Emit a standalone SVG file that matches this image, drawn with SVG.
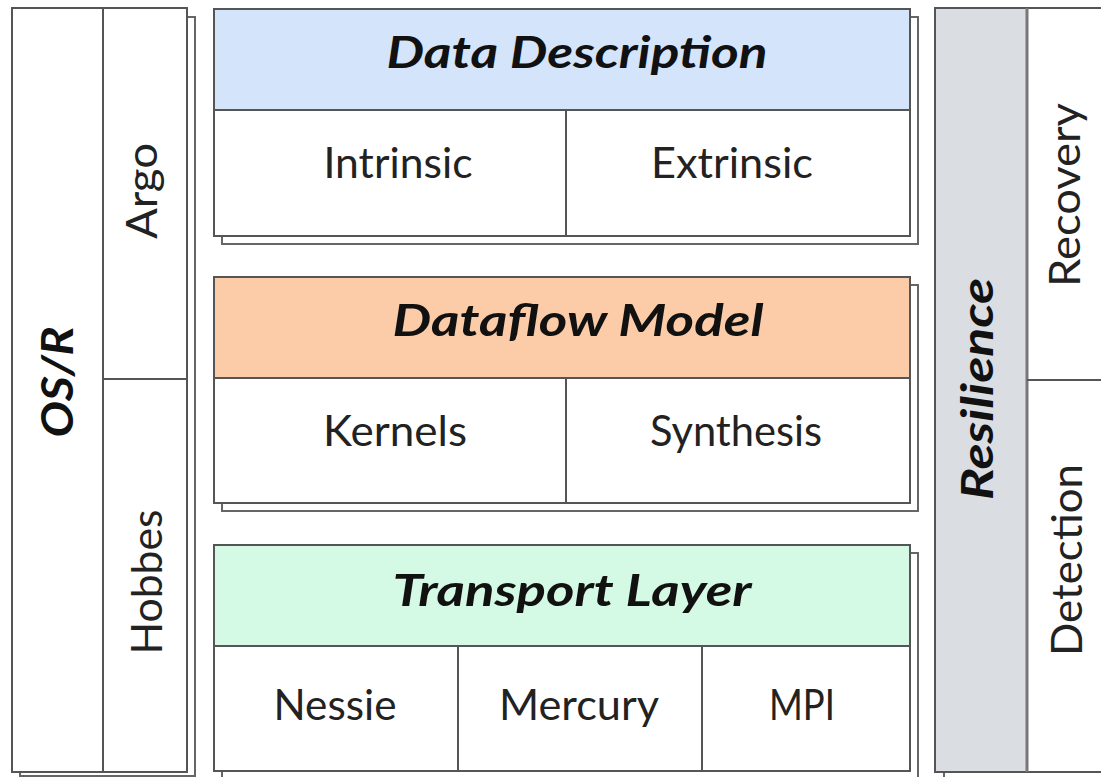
<svg xmlns="http://www.w3.org/2000/svg" width="1101" height="777" viewBox="0 0 1101 777">
<style>
.box{fill:#fff;stroke:#555;stroke-width:2}
.shadow{fill:#fff;stroke:#666;stroke-width:2}
.ln{stroke:#555;stroke-width:2;fill:none}
.hd{font-family:Lato,"Liberation Sans",sans-serif;font-weight:bold;font-style:italic;font-size:43px;fill:#111;text-anchor:middle}
.tx{font-family:Lato,"Liberation Sans",sans-serif;font-size:42px;fill:#222;text-anchor:middle}
</style>
<rect width="1101" height="777" fill="#fff"/>
<g id="osr">
  <rect class="shadow" x="20" y="17" width="175" height="759"/>
  <rect class="box" x="12" y="8" width="175" height="764"/>
  <line class="ln" x1="103" y1="8" x2="103" y2="772"/>
  <line class="ln" x1="103" y1="379" x2="187" y2="379"/>
  <text class="hd" transform="translate(73,382) rotate(-90)" textLength="111" lengthAdjust="spacingAndGlyphs">OS/R</text>
  <text class="tx" transform="translate(157,191) rotate(-90)" textLength="96" lengthAdjust="spacingAndGlyphs">Argo</text>
  <text class="tx" transform="translate(162,582) rotate(-90)" textLength="145" lengthAdjust="spacingAndGlyphs">Hobbes</text>
</g>
<g id="data-description">
  <rect class="shadow" x="222" y="17" width="696" height="227"/>
  <rect class="box" x="214" y="9" width="696" height="227"/>
  <rect x="214" y="9" width="696" height="101" fill="#d4e4fb" stroke="#555" stroke-width="2"/>
  <line class="ln" x1="566" y1="110" x2="566" y2="236"/>
  <text class="hd" x="577" y="68" textLength="381" lengthAdjust="spacingAndGlyphs">Data Description</text>
  <text class="tx" x="398" y="178" textLength="149" lengthAdjust="spacingAndGlyphs">Intrinsic</text>
  <text class="tx" x="732" y="178" textLength="162" lengthAdjust="spacingAndGlyphs">Extrinsic</text>
</g>
<g id="dataflow-model">
  <rect class="shadow" x="222" y="285" width="696" height="226"/>
  <rect class="box" x="214" y="277" width="696" height="226"/>
  <rect x="214" y="277" width="696" height="101" fill="#fccca8" stroke="#555" stroke-width="2"/>
  <line class="ln" x1="566" y1="378" x2="566" y2="503"/>
  <text class="hd" x="578" y="336" textLength="371" lengthAdjust="spacingAndGlyphs">Dataflow Model</text>
  <text class="tx" x="395" y="446" textLength="144" lengthAdjust="spacingAndGlyphs">Kernels</text>
  <text class="tx" x="736" y="446" textLength="172" lengthAdjust="spacingAndGlyphs">Synthesis</text>
</g>
<g id="transport-layer">
  <rect class="shadow" x="222" y="553" width="696" height="226"/>
  <rect class="box" x="214" y="545" width="696" height="226"/>
  <rect x="214" y="545" width="696" height="101" fill="#d4f9e4" stroke="#555" stroke-width="2"/>
  <line class="ln" x1="458" y1="646" x2="458" y2="771"/>
  <line class="ln" x1="702" y1="646" x2="702" y2="771"/>
  <text class="hd" x="572" y="606" textLength="359" lengthAdjust="spacingAndGlyphs">Transport Layer</text>
  <text class="tx" x="335" y="720" textLength="123" lengthAdjust="spacingAndGlyphs">Nessie</text>
  <text class="tx" x="579" y="720" textLength="160" lengthAdjust="spacingAndGlyphs">Mercury</text>
  <text class="tx" x="802" y="720" textLength="66" lengthAdjust="spacingAndGlyphs">MPI</text>
</g>
<g id="resilience">
  <rect class="shadow" x="944" y="17" width="170" height="764"/>
  <rect class="box" x="935" y="8" width="180" height="764"/>
  <rect x="935" y="8" width="92" height="764" fill="#dadde2" stroke="#555" stroke-width="2"/>
  <line x1="1027" y1="8" x2="1027" y2="772" stroke="#777" stroke-width="3"/>
  <line class="ln" x1="1027" y1="380" x2="1101" y2="380"/>
  <text class="hd" transform="translate(993,389) rotate(-90)" textLength="222" lengthAdjust="spacingAndGlyphs">Resilience</text>
  <text class="tx" transform="translate(1080,195) rotate(-90)" textLength="184" lengthAdjust="spacingAndGlyphs">Recovery</text>
  <text class="tx" transform="translate(1082,560) rotate(-90)" textLength="192" lengthAdjust="spacingAndGlyphs">Detection</text>
</g>
<g id="connectors"/>
</svg>
